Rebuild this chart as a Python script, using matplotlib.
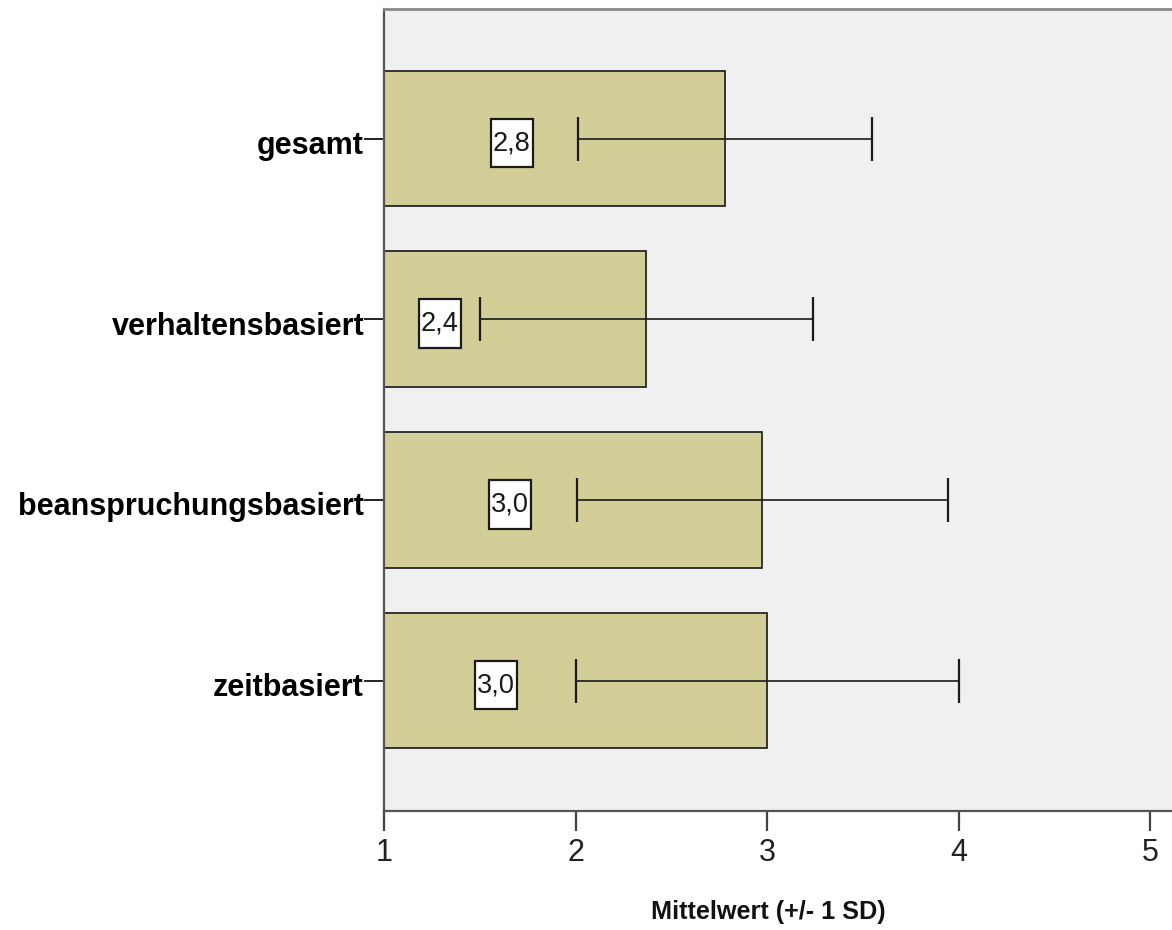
import numpy as np
import matplotlib
matplotlib.use("Agg")
import matplotlib.pyplot as plt
import matplotlib.transforms as mtransforms
from matplotlib.path import Path

plt.rcParams['font.family'] = ['Liberation Sans', 'DejaVu Sans']

# ---- data ----
categories = ['gesamt', 'verhaltensbasiert', 'beanspruchungsbasiert', 'zeitbasiert']
means = [2.78, 2.37, 2.975, 3.00]
sds = [0.765, 0.87, 0.97, 1.00]
xticks = [1, 2, 3, 4, 5]
xlabel = 'Mittelwert (+/- 1 SD)'
label_x = [1.668, 1.29, 1.658, 1.585]   # x position of value boxes

BAR_COLOR = '#D3CE97'
BG = '#F0F0F0'

fig = plt.figure(figsize=(11.72, 9.30), dpi=100)
ax = fig.add_axes([384 / 1172, 1 - 811 / 930, (5.2 - 1) * 191.6 / 1172, 802 / 930])
ax.set_facecolor(BG)

y = np.arange(len(categories))
ax.barh(y, np.array(means) - 1, left=1, height=0.75, color=BAR_COLOR,
        edgecolor='#262626', linewidth=1.3, zorder=2)

ax.errorbar(means, y, xerr=sds, fmt='none', ecolor='#1a1a1a', elinewidth=1.2,
            capsize=15.8, capthick=1.6, zorder=3)
for ln in ax.lines:
    ln.set_color('#4a4a4a')


def tallbox(x0, y0, width, height, mutation_size):
    padx = 0.08 * mutation_size
    pady = 0.42 * mutation_size
    verts = [(x0 - padx, y0 - pady), (x0 + width + padx, y0 - pady),
             (x0 + width + padx, y0 + height + pady), (x0 - padx, y0 + height + pady),
             (x0 - padx, y0 - pady)]
    codes = [Path.MOVETO, Path.LINETO, Path.LINETO, Path.LINETO, Path.CLOSEPOLY]
    return Path(verts, codes)


for yi, m, lx in zip(y, means, label_x):
    ax.text(lx, yi + 0.025, f"{m:.1f}".replace('.', ','), ha='center', va='center',
            fontsize=19.5, color='#1a1a1a', zorder=4,
            bbox=dict(boxstyle=tallbox, facecolor='white', edgecolor='#1a1a1a', linewidth=1.6))

ax.set_xlim(1, 5.2)
ax.set_ylim(len(categories) - 1 + 0.722, -0.717)
ax.set_xticks(xticks)
ax.set_xticklabels([str(t) for t in xticks])
ax.set_yticks(y)
ax.set_yticklabels(categories, fontweight='bold', fontsize=22)

ax.tick_params(axis='x', length=14.4, width=1.6, color='#444444', labelsize=22,
               labelcolor='#222222', pad=5)
ax.tick_params(axis='y', length=14.4, width=1.3, color='#111111', pad=0)

shift = mtransforms.ScaledTranslation(0, -4 / 100, fig.dpi_scale_trans)
for lab in ax.get_yticklabels():
    lab.set_transform(lab.get_transform() + shift)

for side in ['left', 'bottom']:
    ax.spines[side].set_color('#555555')
    ax.spines[side].set_linewidth(1.6)
ax.spines['top'].set_color('#888888')
ax.spines['top'].set_linewidth(2)
ax.spines['right'].set_visible(False)

fig.text(768 / 1172, 1 - 912 / 930, xlabel, ha='center', va='center',
         fontsize=18.2, fontweight='bold', color='#111111')

fig.savefig('out.png', dpi=100)
